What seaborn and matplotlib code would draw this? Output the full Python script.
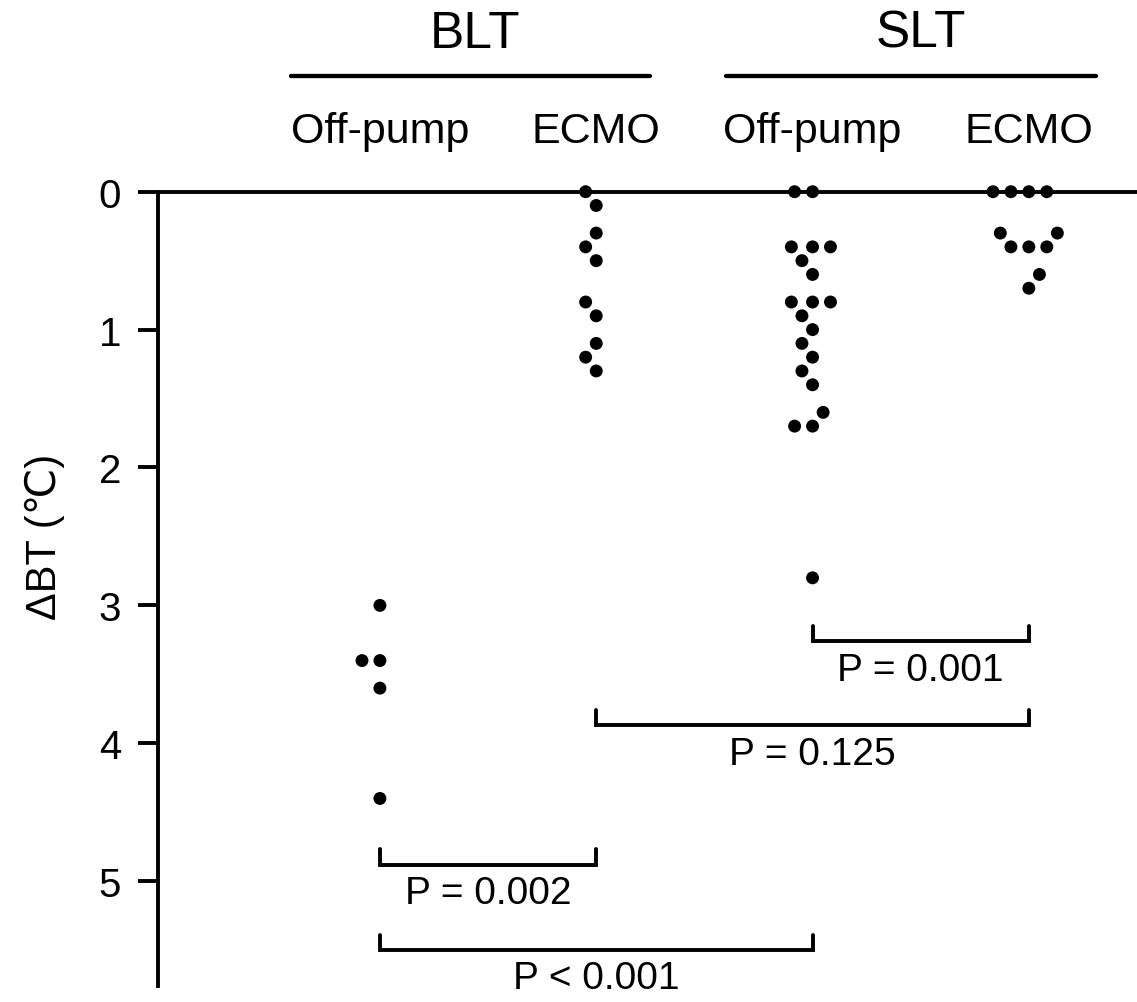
import matplotlib
matplotlib.use("Agg")
import matplotlib.pyplot as plt
import seaborn as sns
import pandas as pd

# grupos e valores (ΔBT em °C)
groups = ["BLT Off-pump", "BLT ECMO", "SLT Off-pump", "SLT ECMO"]
sub_labels = ["Off-pump", "ECMO", "Off-pump", "ECMO"]
blt_off = [3.0, 3.4, 3.4, 3.6, 4.4]
blt_ecmo = [0.0, 0.1, 0.3, 0.4, 0.5, 0.8, 0.9, 1.1, 1.2, 1.3]
slt_off = [0.0, 0.0, 0.4, 0.4, 0.4, 0.5, 0.6, 0.8, 0.8, 0.8,
           0.9, 1.0, 1.1, 1.2, 1.3, 1.4, 1.6, 1.7, 1.7, 2.8]
slt_ecmo = [0.0, 0.0, 0.0, 0.0, 0.3, 0.3, 0.4, 0.4, 0.4, 0.6, 0.7]

y_ticks = [0, 1, 2, 3, 4, 5]

# comparações (índices dos grupos, nível do colchete, texto)
comp_pairs = [(2, 3), (1, 3), (0, 1), (0, 2)]
comp_levels = [3.26, 3.87, 4.88, 5.50]
comp_labels = ["P = 0.001", "P = 0.125", "P = 0.002", "P < 0.001"]

# cabeçalhos superiores
headers = ["BLT", "SLT"]
header_spans = [(-0.41, 1.25), (1.60, 3.31)]
header_x = [0.44, 2.50]

values = [blt_off, blt_ecmo, slt_off, slt_ecmo]
df = pd.DataFrame({
    "grupo": [g for g, v in zip(groups, values) for _ in v],
    "dbt": [x for v in values for x in v],
})

sns.set_style("white")
plt.rcParams["font.family"] = ["Liberation Sans", "DejaVu Sans"]
plt.rcParams["text.color"] = "black"
plt.rcParams["axes.labelcolor"] = "black"

fig = plt.figure(figsize=(11.37, 10.03), dpi=100)
ax = fig.add_axes([158 / 1137, 0.0, 1 - 158 / 1137, 1 - 192.7 / 1003])

# borda invisível só para afastar os pontos no enxame
sns.swarmplot(data=df, x="grupo", y="dbt", order=groups, color="black",
              size=9.3, linewidth=3, edgecolor="none", ax=ax)
for c in ax.collections:
    c.set_clip_on(False)
    c.set_zorder(5)

ax.set_xlim(-1.026, 3.5)
ax.set_ylim(5.876, 0)

# eixos
lw = 2.8
for s in ["right", "bottom"]:
    ax.spines[s].set_visible(False)
ax.spines["left"].set_bounds(0, 5.76)
for s in ["left", "top"]:
    ax.spines[s].set_linewidth(lw)
    ax.spines[s].set_color("black")

ax.set_yticks(y_ticks)
ax.set_yticklabels([str(t) for t in y_ticks])
ax.tick_params(axis="y", direction="out", length=14.5, width=lw, pad=12,
               labelsize=29, colors="black", left=True)

ax.xaxis.tick_top()
ax.set_xticks(range(len(groups)))
ax.set_xticklabels(sub_labels)
ax.tick_params(axis="x", length=0, pad=29, labelsize=31, colors="black")
ax.set_xlabel("")

ax.set_ylabel("ΔBT (℃)", fontsize=30, color="black")
ax.yaxis.set_label_coords(-0.095, 0.575)

# colchetes de comparação
tick_h = 0.11
for (a, b), lev, lab in zip(comp_pairs, comp_levels, comp_labels):
    ax.plot([a, a, b, b], [lev - tick_h, lev, lev, lev - tick_h],
            color="black", lw=lw, clip_on=False, solid_joinstyle="miter")
    ax.text((a + b) / 2, lev + 0.205, lab, ha="center", va="center",
            fontsize=28, color="black", clip_on=False)

# cabeçalhos BLT / SLT
for h, (x0, x1), hx in zip(headers, header_spans, header_x):
    ax.plot([x0, x1], [-0.839, -0.839], color="black", lw=lw + 0.3, clip_on=False)
    ax.text(hx, -1.15, h, ha="center", va="center", fontsize=37,
            color="black", clip_on=False)

fig.savefig("out.png", dpi=100)
